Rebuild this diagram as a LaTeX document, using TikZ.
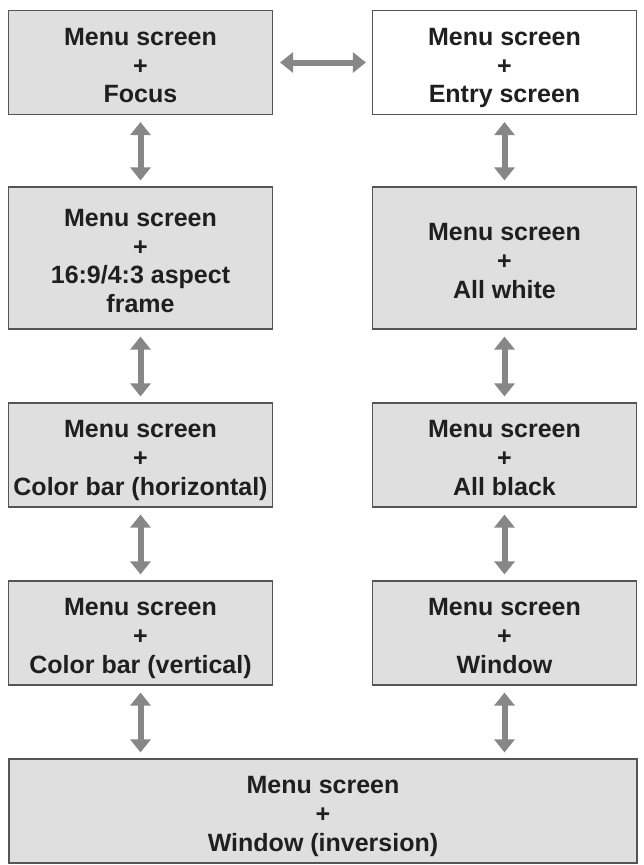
\documentclass[tikz,border=0pt]{standalone}
\usepackage{fontspec}
\setmainfont{Liberation Sans}
\usetikzlibrary{arrows.meta}
\definecolor{boxgray}{RGB}{223,223,223}
\definecolor{edgegray}{RGB}{85,85,85}
\definecolor{arrowgray}{RGB}{135,135,135}
\newcommand{\menutext}[1]{\rule{0pt}{29pt}Menu screen\\+\\#1\rule[-6pt]{0pt}{6pt}}
\begin{document}
\begin{tikzpicture}[x=1pt,y=-1pt,
  screen/.style={draw=edgegray,line width=1.2pt,fill=boxgray,minimum width=264pt,
    minimum height=104pt,inner sep=0pt,align=center,
    font=\fontsize{25}{28.7}\selectfont\bfseries,text=black!88},
  link/.style={draw=arrowgray,line width=6pt,
    {Triangle[width=20pt,length=13pt]}-{Triangle[width=20pt,length=13pt]},
    shorten <=7pt,shorten >=6pt}]
\useasboundingbox (0,0) rectangle (643,865);
% left column
\node [screen] (focus) at (140.5,62.5) {\menutext{Focus}};
\node [screen,minimum height=142pt] (aspect) at (140.5,258) {\menutext{16:9/4:3 aspect\\frame}};
\node [screen] (hbar) at (140.5,455) {\menutext{Color bar (horizontal)}};
\node [screen] (vbar) at (140.5,633) {\menutext{Color bar (vertical)}};
% right column
\node [screen,fill=white] (entry) at (504.5,62.5) {\menutext{Entry screen}};
\node [screen,minimum height=142pt] (white) at (504.5,258) {\menutext{All white}};
\node [screen] (black) at (504.5,455) {\menutext{All black}};
\node [screen] (window) at (504.5,633) {\menutext{Window}};
% bottom
\node [screen,minimum width=628pt] (inversion) at (323,811) {\menutext{Window (inversion)}};
% arrows
\draw [link] (focus) -- (entry);
\draw [link] (focus) -- (aspect);
\draw [link] (aspect) -- (hbar);
\draw [link] (hbar) -- (vbar);
\draw [link] (vbar.south) -- (vbar.south |- inversion.north);
\draw [link] (entry) -- (white);
\draw [link] (white) -- (black);
\draw [link] (black) -- (window);
\draw [link] (window.south) -- (window.south |- inversion.north);
\end{tikzpicture}
\end{document}
